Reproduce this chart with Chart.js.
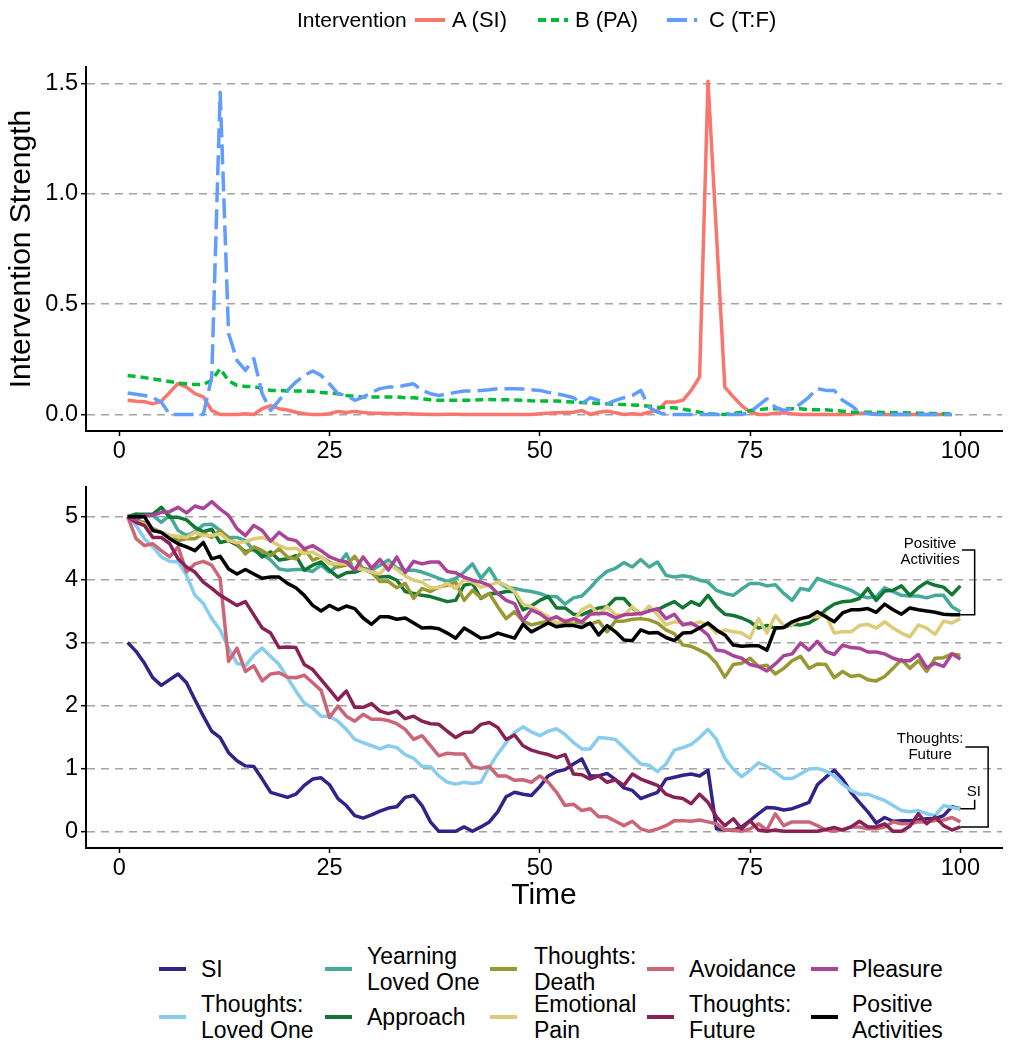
<!DOCTYPE html>
<html>
<head>
<meta charset="utf-8">
<script src="https://cdn.jsdelivr.net/npm/chart.js@4.4.1/dist/chart.umd.min.js"></script>
<style>
  body { margin: 0; background: #fff; font-family: "Liberation Sans", Arial, sans-serif; }
  #wrap { position: relative; width: 1014px; height: 1050px; overflow: hidden; }
  canvas { position: absolute; left: 0; }
  .lg { position: absolute; color: #000; font-size: 23px; line-height: 26px; white-space: pre; transform: translateY(-50%); }
  .key { position: absolute; height: 4px; transform: translateY(-50%); }
</style>
</head>
<body>
<div id="wrap">
  <canvas id="topChart" width="1014" height="470" style="top:0"></canvas>
  <canvas id="bottomChart" width="1014" height="460" style="top:470px"></canvas>
</div>
<script>
// time steps
const time = Array.from({ length: 100 }, (_, i) => i + 1);
const timeTop = time.slice(0, 99);

// intervention strengths (top panel)
const interventionNames = ["A (SI)", "B (PA)", "C (T:F)"];
const interventionA = [0.064, 0.06, 0.058, 0.048, 0.06, 0.1, 0.14, 0.124, 0.094, 0.08,
  0.018, 0, 0, 0, 0.003, 0, 0.026, 0.04, 0.026, 0.02,
  0.01, 0.003, 0, 0, 0.003, 0.014, 0.009, 0.014, 0.009, 0.006,
  0.005, 0.004, 0.003, 0.003, 0.002, 0.001, 0, 0, 0.001, 0.001,
  0, 0, 0, 0, 0, 0, 0, 0, 0, 0.003,
  0.006, 0.008, 0.009, 0.01, 0.018, 0, 0.01, 0.015, 0.008, 0,
  0.003, 0, 0.01, 0.018, 0.056, 0.056, 0.064, 0.109, 0.17, 1.51,
  0.82, 0.124, 0.08, 0.04, 0.01, 0, 0, 0.006, 0.008, 0.003,
  0, 0, 0, 0, 0, 0, 0, 0.006, 0.006, 0.003,
  0, 0, 0, 0, 0, 0, 0, 0, 0];
const interventionB = [0.177, 0.172, 0.167, 0.161, 0.155, 0.149, 0.142, 0.139, 0.136, 0.136,
  0.155, 0.208, 0.152, 0.132, 0.127, 0.127, 0.117, 0.109, 0.109, 0.106,
  0.106, 0.106, 0.105, 0.1, 0.097, 0.094, 0.086, 0.082, 0.079, 0.079,
  0.079, 0.079, 0.079, 0.076, 0.076, 0.071, 0.067, 0.064, 0.064, 0.064,
  0.064, 0.064, 0.067, 0.068, 0.067, 0.067, 0.066, 0.064, 0.062, 0.061,
  0.061, 0.061, 0.058, 0.056, 0.054, 0.052, 0.05, 0.048, 0.046, 0.045,
  0.043, 0.041, 0.037, 0.033, 0.031, 0.03, 0.024, 0.018, 0.01, 0.003,
  0.001, 0, 0.005, 0.01, 0.018, 0.021, 0.026, 0.026, 0.026, 0.026,
  0.026, 0.021, 0.021, 0.021, 0.018, 0.015, 0.01, 0.01, 0.01, 0.01,
  0.009, 0.008, 0.008, 0.007, 0.006, 0.005, 0.004, 0.003, 0.003];
const interventionC = [0.097, 0.092, 0.086, 0.076, 0.056, 0, 0, 0, 0, 0,
  0.17, 1.46, 0.367, 0.245, 0.2, 0.253, 0.094, 0.018, 0.064, 0.109,
  0.147, 0.177, 0.197, 0.177, 0.139, 0.094, 0.086, 0.064, 0.079, 0.1,
  0.117, 0.124, 0.124, 0.132, 0.139, 0.109, 0.094, 0.086, 0.094, 0.1,
  0.106, 0.106, 0.109, 0.112, 0.117, 0.117, 0.117, 0.115, 0.112, 0.109,
  0.1, 0.094, 0.086, 0.076, 0.048, 0.076, 0.064, 0.048, 0.064, 0.076,
  0.086, 0.109, 0.033, 0.01, 0, 0, 0, 0, 0, 0,
  0, 0, 0, 0, 0.01, 0.041, 0.071, 0.033, 0.018, 0.026,
  0.048, 0.079, 0.117, 0.109, 0.109, 0.064, 0.041, 0.01, 0.003, 0,
  0, 0, 0, 0, 0, 0, 0, 0, 0];

// symptom trajectories (bottom panel)
const symptomNames = ["SI", "Thoughts: Loved One", "Yearning Loved One", "Approach", "Thoughts: Death",
  "Emotional Pain", "Avoidance", "Thoughts: Future", "Pleasure", "Positive Activities"];
const legendLabels = ["SI", "Thoughts:\nLoved One", "Yearning\nLoved One", "Approach", "Thoughts:\nDeath",
  "Emotional\nPain", "Avoidance", "Thoughts:\nFuture", "Pleasure", "Positive\nActivities"];

const si = [3.0, 2.86, 2.67, 2.44, 2.32, 2.41, 2.5, 2.36, 2.09, 1.83,
  1.59, 1.49, 1.25, 1.12, 1.04, 1.03, 0.83, 0.62, 0.58, 0.54,
  0.59, 0.73, 0.83, 0.85, 0.74, 0.52, 0.41, 0.25, 0.21, 0.26,
  0.32, 0.37, 0.39, 0.54, 0.57, 0.41, 0.15, 0, 0, 0,
  0.07, 0, 0.07, 0.15, 0.31, 0.55, 0.62, 0.59, 0.57, 0.71,
  0.88, 0.95, 0.98, 1.07, 1.15, 0.88, 0.88, 0.92, 0.82, 0.69,
  0.65, 0.52, 0.57, 0.62, 0.83, 0.86, 0.89, 0.91, 0.88, 0.97,
  0.04, 0.02, 0.02, 0.07, 0.17, 0.28, 0.38, 0.37, 0.34, 0.36,
  0.41, 0.46, 0.74, 0.86, 0.97, 0.83, 0.62, 0.46, 0.31, 0.13,
  0.22, 0.16, 0.17, 0.17, 0.18, 0.2, 0.2, 0.25, 0.39, 0.36];
const thoughtsLovedOne = [5.0, 4.86, 4.65, 4.52, 4.36, 4.29, 4.28, 4.07, 3.75, 3.62,
  3.38, 3.2, 2.91, 2.67, 2.63, 2.8, 2.91, 2.78, 2.65, 2.44,
  2.23, 2.04, 1.96, 1.83, 1.83, 1.75, 1.62, 1.46, 1.41, 1.36,
  1.31, 1.36, 1.33, 1.22, 1.16, 1.03, 1.03, 0.88, 0.78, 0.75,
  0.78, 0.76, 0.78, 1.02, 1.23, 1.41, 1.57, 1.66, 1.58, 1.52,
  1.59, 1.63, 1.54, 1.41, 1.31, 1.31, 1.49, 1.48, 1.46, 1.33,
  1.2, 1.07, 1.05, 0.95, 1.07, 1.29, 1.33, 1.38, 1.49, 1.62,
  1.46, 1.16, 0.99, 0.87, 0.97, 1.09, 1.03, 0.94, 0.84, 0.84,
  0.91, 0.99, 1.0, 0.96, 0.88, 0.75, 0.65, 0.59, 0.59, 0.54,
  0.49, 0.41, 0.33, 0.31, 0.33, 0.28, 0.25, 0.41, 0.38, 0.36];
const yearningLovedOne = [5.0, 5.04, 5.02, 5.02, 4.91, 5.02, 4.78, 4.7, 4.76, 4.87,
  4.88, 4.78, 4.67, 4.67, 4.62, 4.46, 4.41, 4.31, 4.17, 4.15,
  4.16, 4.16, 4.13, 4.23, 4.12, 4.23, 4.41, 4.12, 4.18, 4.15,
  4.23, 4.31, 4.18, 4.15, 4.15, 4.12, 4.07, 4.02, 3.97, 4.02,
  4.12, 4.25, 4.02, 4.18, 3.96, 3.88, 3.86, 3.83, 3.81, 3.78,
  3.73, 3.73, 3.61, 3.71, 3.74, 3.87, 4.02, 4.13, 4.18, 4.27,
  4.2, 4.32, 4.2, 4.28, 4.07, 4.04, 4.06, 4.04, 3.99, 3.96,
  3.83, 3.78, 3.75, 3.85, 3.94, 3.94, 3.9, 3.92, 3.78, 3.67,
  3.86, 3.83, 4.02, 3.97, 3.92, 3.88, 3.83, 3.75, 3.71, 3.73,
  3.87, 3.81, 3.75, 3.74, 3.74, 3.71, 3.75, 3.75, 3.57, 3.49];
const approach = [5.0, 5.04, 5.04, 5.04, 5.15, 4.99, 4.99, 4.95, 4.83, 4.76,
  4.8, 4.59, 4.62, 4.55, 4.44, 4.49, 4.36, 4.44, 4.31, 4.33,
  4.38, 4.15, 4.23, 4.28, 4.15, 4.04, 4.11, 4.12, 4.17, 4.11,
  4.04, 4.05, 3.99, 3.81, 3.78, 3.75, 3.73, 3.69, 3.65, 3.67,
  3.91, 3.94, 3.7, 3.78, 3.78, 3.81, 3.81, 3.52, 3.58, 3.67,
  3.73, 3.55, 3.55, 3.45, 3.44, 3.5, 3.55, 3.57, 3.7, 3.7,
  3.55, 3.45, 3.52, 3.52, 3.59, 3.65, 3.55, 3.65, 3.59, 3.75,
  3.57, 3.45, 3.43, 3.39, 3.33, 3.23, 3.27, 3.23, 3.24, 3.29,
  3.28, 3.31, 3.39, 3.52, 3.61, 3.65, 3.66, 3.7, 3.86, 3.67,
  3.82, 3.83, 3.9, 3.75, 3.87, 3.96, 3.91, 3.88, 3.76, 3.9];
const thoughtsDeath = [5.0, 4.94, 4.91, 4.81, 4.75, 4.7, 4.62, 4.65, 4.65, 4.73,
  4.67, 4.78, 4.65, 4.57, 4.41, 4.52, 4.46, 4.38, 4.49, 4.36,
  4.33, 4.49, 4.31, 4.36, 4.28, 4.2, 4.23, 4.37, 4.17, 4.12,
  3.97, 3.97, 3.87, 3.94, 3.7, 3.86, 3.81, 3.88, 3.91, 3.96,
  3.67, 3.83, 3.71, 3.78, 3.57, 3.38, 3.49, 3.34, 3.28, 3.31,
  3.34, 3.31, 3.29, 3.33, 3.31, 3.29, 3.34, 3.17, 3.34, 3.34,
  3.37, 3.38, 3.36, 3.31, 3.2, 3.14, 2.96, 2.94, 2.88, 2.81,
  2.67, 2.45, 2.65, 2.67, 2.75, 2.62, 2.64, 2.5, 2.59, 2.71,
  2.78, 2.59, 2.66, 2.65, 2.44, 2.54, 2.46, 2.48, 2.41, 2.39,
  2.46, 2.59, 2.73, 2.59, 2.71, 2.54, 2.75, 2.76, 2.82, 2.8];
const emotionalPain = [5.0, 4.92, 4.88, 4.78, 4.75, 4.7, 4.69, 4.67, 4.75, 4.7,
  4.7, 4.73, 4.62, 4.59, 4.6, 4.65, 4.67, 4.62, 4.54, 4.49,
  4.5, 4.41, 4.44, 4.36, 4.25, 4.25, 4.25, 4.18, 4.16, 4.12,
  4.09, 4.25, 4.16, 4.06, 3.99, 3.96, 3.87, 3.87, 3.94, 3.86,
  4.0, 3.96, 3.88, 3.91, 3.96, 3.91, 3.81, 3.61, 3.57, 3.49,
  3.41, 3.31, 3.36, 3.34, 3.52, 3.59, 3.44, 3.57, 3.44, 3.43,
  3.57, 3.44, 3.58, 3.44, 3.28, 3.33, 3.31, 3.28, 3.33, 3.28,
  3.15, 3.2, 3.17, 3.15, 3.07, 3.38, 3.15, 3.43, 3.27, 3.29,
  3.37, 3.41, 3.41, 3.44, 3.15, 3.17, 3.17, 3.27, 3.29, 3.23,
  3.33, 3.23, 3.15, 3.09, 3.28, 3.23, 3.13, 3.34, 3.31, 3.38];
const avoidance = [5.0, 4.65, 4.54, 4.57, 4.46, 4.36, 4.52, 4.12, 4.25, 4.29,
  4.23, 4.02, 2.7, 2.91, 2.54, 2.63, 2.39, 2.5, 2.52, 2.45,
  2.44, 2.48, 2.36, 2.24, 1.81, 1.99, 1.83, 1.75, 1.86, 1.78,
  1.78, 1.76, 1.71, 1.62, 1.46, 1.52, 1.36, 1.2, 1.24, 1.23,
  1.23, 1.03, 1.0, 1.03, 0.88, 0.88, 0.81, 0.82, 0.78, 0.88,
  0.78, 0.62, 0.41, 0.43, 0.33, 0.36, 0.23, 0.23, 0.16, 0.09,
  0.16, 0.04, 0, 0.04, 0.09, 0.17, 0.17, 0.16, 0.18, 0.15,
  0.12, 0.02, 0.02, 0, 0.04, 0.12, 0.02, 0.28, 0.09, 0.15,
  0.15, 0.15, 0.09, 0.02, 0, 0.03, 0.07, 0.07, 0.04, 0.04,
  0.07, 0.15, 0.12, 0.12, 0.15, 0.15, 0.17, 0.18, 0.22, 0.15];
const thoughtsFuture = [5.0, 4.91, 4.86, 4.67, 4.67, 4.57, 4.33, 4.2, 4.12, 3.96,
  3.86, 3.75, 3.67, 3.59, 3.65, 3.44, 3.23, 3.15, 2.92, 2.93,
  2.92, 2.65, 2.57, 2.41, 2.25, 2.09, 2.23, 1.97, 1.97, 2.03,
  1.91, 1.87, 1.91, 1.79, 1.83, 1.75, 1.71, 1.7, 1.59, 1.49,
  1.57, 1.58, 1.7, 1.73, 1.65, 1.46, 1.53, 1.36, 1.29, 1.25,
  1.22, 1.17, 1.22, 0.91, 0.9, 0.83, 0.88, 0.78, 0.82, 0.73,
  0.91, 0.83, 0.78, 0.73, 0.59, 0.54, 0.52, 0.44, 0.59, 0.46,
  0.23, 0.09, 0.2, 0.04, 0.17, 0.02, 0, 0.02, 0, 0,
  0, 0, 0, 0.03, 0.06, 0.02, 0.07, 0.16, 0.07, 0.07,
  0.12, 0, 0, 0.08, 0.28, 0.12, 0.23, 0.09, 0.02, 0.07];
const pleasure = [5.0, 4.95, 5.02, 5.02, 5.07, 5.08, 5.15, 5.06, 5.17, 5.13,
  5.24, 5.12, 5.02, 4.81, 4.7, 4.86, 4.78, 4.61, 4.75, 4.65,
  4.62, 4.49, 4.54, 4.46, 4.36, 4.31, 4.28, 4.15, 4.36, 4.18,
  4.32, 4.15, 4.36, 4.11, 4.29, 4.25, 4.28, 4.28, 4.13, 4.11,
  4.04, 3.99, 3.96, 3.91, 3.78, 3.67, 3.62, 3.34, 3.52, 3.46,
  3.36, 3.41, 3.33, 3.38, 3.33, 3.45, 3.46, 3.46, 3.39, 3.44,
  3.45, 3.46, 3.5, 3.54, 3.38, 3.45, 3.28, 3.31, 3.23, 3.12,
  2.88, 2.86, 2.79, 2.75, 2.65, 2.62, 2.55, 2.66, 2.79, 2.82,
  2.99, 2.88, 3.02, 2.86, 2.81, 2.96, 2.92, 2.91, 2.85, 2.85,
  2.82, 2.75, 2.71, 2.71, 2.81, 2.6, 2.67, 2.62, 2.82, 2.74];
const positiveActivities = [5.0, 5.0, 5.0, 4.78, 4.75, 4.65, 4.57, 4.52, 4.46, 4.59,
  4.33, 4.37, 4.17, 4.09, 4.16, 4.09, 4.02, 4.04, 4.04, 3.94,
  3.87, 3.75, 3.59, 3.5, 3.59, 3.52, 3.58, 3.54, 3.39, 3.29,
  3.41, 3.41, 3.37, 3.39, 3.31, 3.23, 3.24, 3.22, 3.15, 3.07,
  3.23, 3.15, 3.07, 3.09, 3.15, 3.11, 3.07, 3.29, 3.17, 3.24,
  3.31, 3.25, 3.27, 3.27, 3.24, 3.31, 3.12, 3.27, 3.17, 3.04,
  3.03, 3.2, 3.15, 3.16, 3.08, 3.03, 3.15, 3.16, 3.23, 3.31,
  3.2, 3.12, 2.96, 2.94, 2.95, 2.95, 2.88, 3.23, 3.24, 3.33,
  3.38, 3.41, 3.49, 3.41, 3.33, 3.47, 3.52, 3.52, 3.54, 3.48,
  3.61, 3.52, 3.45, 3.55, 3.52, 3.5, 3.48, 3.45, 3.44, 3.44];

const symptomSeries = [si, thoughtsLovedOne, yearningLovedOne, approach, thoughtsDeath,
  emotionalPain, avoidance, thoughtsFuture, pleasure, positiveActivities];

// styling
const FONT = "'Liberation Sans', Arial, sans-serif";
const interventionColors = ["#F8766D", "#00BA38", "#619CFF"];
const interventionDash = [[], [8, 5], [20, 7]];
const symptomColors = ["#332288", "#88CCEE", "#44AA99", "#117733", "#999933",
  "#DDCC77", "#CC6677", "#882255", "#AA4499", "#000000"];

Chart.defaults.font.family = FONT;
Chart.defaults.color = "#000";

const yGrid = {
  color: "#a3a3a3",
  lineWidth: 1.4,
  drawTicks: true,
  tickLength: 5,
  tickColor: "#000",
  tickWidth: 1.5,
  tickBorderDash: [],
};
const xGrid = {
  drawOnChartArea: false,
  drawTicks: true,
  tickLength: 5,
  tickColor: "#000",
  tickWidth: 1.5,
};
const axisBorder = { display: true, color: "#000", width: 2 };
const tickFont = { size: 23.5 };

// ---------- top panel ----------
new Chart(document.getElementById("topChart"), {
  type: "line",
  data: {
    labels: timeTop,
    datasets: [interventionA, interventionB, interventionC].map((vals, i) => ({
      label: interventionNames[i],
      data: vals,
      borderColor: interventionColors[i],
      borderWidth: 3.5,
      borderDash: interventionDash[i],
      borderJoinStyle: "round",
      pointRadius: 0,
      tension: 0,
      order: -i,
    })),
  },
  options: {
    responsive: false,
    animation: false,
    events: [],
    layout: { padding: { left: 0, right: 12, top: 67, bottom: 5 } },
    plugins: { legend: { display: false }, tooltip: { enabled: false } },
    scales: {
      x: {
        type: "linear",
        min: -3.95,
        max: 104.95,
        grid: xGrid,
        border: axisBorder,
        ticks: { stepSize: 25, includeBounds: false, font: tickFont, padding: 1, color: "#000" },
        afterFit: (scale) => { scale.height = 34; },
      },
      y: {
        min: -0.075,
        max: 1.575,
        grid: yGrid,
        border: Object.assign({}, axisBorder, { dash: [8, 6] }),
        ticks: {
          stepSize: 0.5,
          includeBounds: false,
          font: tickFont,
          padding: 3,
          color: "#000",
          callback: (v) => v.toFixed(1),
        },
        title: {
          display: true,
          text: "Intervention Strength",
          font: { size: 30 },
          color: "#000",
          padding: { top: 4, bottom: 0 },
        },
        afterFit: (scale) => { scale.width = 86; },
      },
    },
  },
});

// ---------- bottom panel ----------
const last = (arr) => arr[arr.length - 1];

// repelled end labels, placed in data units
const endLabels = [
  {
    lines: ["Positive", "Activities"],
    textX: 96.4, textY: 4.44,
    path: [[100.2, 4.47], [101.7, 4.47], [101.7, last(positiveActivities)], [100, last(positiveActivities)]],
  },
  {
    lines: ["Thoughts:", "Future"],
    textX: 96.4, textY: 1.34,
    path: [[100.6, 1.34], [103.3, 1.34], [103.3, last(thoughtsFuture)], [100, last(thoughtsFuture)]],
  },
  {
    lines: ["SI"],
    textX: 101.6, textY: 0.62,
    path: [[101.7, 0.5], [101.7, last(si)], [100, last(si)]],
  },
];

const endLabelPlugin = {
  id: "endLabels",
  afterDatasetsDraw(chart) {
    const { ctx, scales: { x, y } } = chart;
    ctx.save();
    ctx.strokeStyle = "#000";
    ctx.fillStyle = "#000";
    ctx.lineWidth = 1.5;
    ctx.font = "15px " + FONT;
    ctx.textAlign = "center";
    ctx.textBaseline = "middle";
    endLabels.forEach((lab) => {
      const cx = x.getPixelForValue(lab.textX);
      const cy = y.getPixelForValue(lab.textY);
      lab.lines.forEach((t, k) => {
        ctx.fillText(t, cx, cy + (k - (lab.lines.length - 1) / 2) * 16);
      });
      ctx.beginPath();
      lab.path.forEach(([px, py], k) => {
        const X = x.getPixelForValue(px);
        const Y = y.getPixelForValue(py);
        if (k === 0) ctx.moveTo(X, Y); else ctx.lineTo(X, Y);
      });
      ctx.stroke();
    });
    ctx.restore();
  },
};

new Chart(document.getElementById("bottomChart"), {
  type: "line",
  data: {
    labels: time,
    datasets: symptomSeries.map((vals, i) => ({
      label: symptomNames[i],
      data: vals,
      borderColor: symptomColors[i],
      borderWidth: 3.5,
      borderJoinStyle: "round",
      pointRadius: 0,
      tension: 0,
      order: -i,
    })),
  },
  options: {
    responsive: false,
    animation: false,
    events: [],
    layout: { padding: { left: 0, right: 12, top: 15, bottom: 2 } },
    plugins: { legend: { display: false }, tooltip: { enabled: false } },
    scales: {
      x: {
        type: "linear",
        min: -3.95,
        max: 104.95,
        grid: xGrid,
        border: axisBorder,
        ticks: { stepSize: 25, includeBounds: false, font: tickFont, padding: 1, color: "#000" },
        title: {
          display: true,
          text: "Time",
          font: { size: 30 },
          color: "#000",
          padding: { top: 0, bottom: 14 },
        },
        afterFit: (scale) => { scale.height = 80; },
      },
      y: {
        min: -0.265,
        max: 5.47,
        grid: yGrid,
        border: Object.assign({}, axisBorder, { dash: [8, 6] }),
        ticks: { stepSize: 1, includeBounds: false, font: tickFont, padding: 3, color: "#000" },
        afterFit: (scale) => { scale.width = 86; },
      },
    },
  },
  plugins: [endLabelPlugin],
});

// ---------- legends (html) ----------
const wrap = document.getElementById("wrap");
function keyBackground(color, dash) {
  if (!dash.length) return color;
  return `repeating-linear-gradient(90deg, ${color} 0 ${dash[0]}px, transparent ${dash[0]}px ${dash[0] + dash[1]}px)`;
}
function addText(text, left, cy, size) {
  const d = document.createElement("div");
  d.className = "lg";
  d.textContent = text;
  d.style.left = left + "px";
  d.style.top = cy + "px";
  if (size) d.style.fontSize = size + "px";
  wrap.appendChild(d);
}
function addKey(bg, left, cy, width) {
  const k = document.createElement("div");
  k.className = "key";
  k.style.left = left + "px";
  k.style.top = cy + "px";
  k.style.width = width + "px";
  k.style.background = bg;
  wrap.appendChild(k);
}

// top legend
const topLegendY = 20;
addText("Intervention", 297, topLegendY, 21);
const topKeyLeft = [415, 538, 667];
const topTextLeft = [452, 575, 709];
interventionNames.forEach((name, i) => {
  addKey(keyBackground(interventionColors[i], interventionDash[i]), topKeyLeft[i], topLegendY, 30);
  addText(name, topTextLeft[i], topLegendY, 22);
});

// bottom legend: 5 columns x 2 rows, filled column by column
const bottomKeyLeft = [159, 325, 490, 647, 811];
const bottomTextLeft = [201, 367, 534, 689, 852];
const bottomRowY = [969, 1017];
legendLabels.forEach((label, i) => {
  const col = Math.floor(i / 2);
  const row = i % 2;
  addKey(symptomColors[i], bottomKeyLeft[col], bottomRowY[row], 27);
  addText(label, bottomTextLeft[col], bottomRowY[row]);
});
</script>
</body>
</html>
